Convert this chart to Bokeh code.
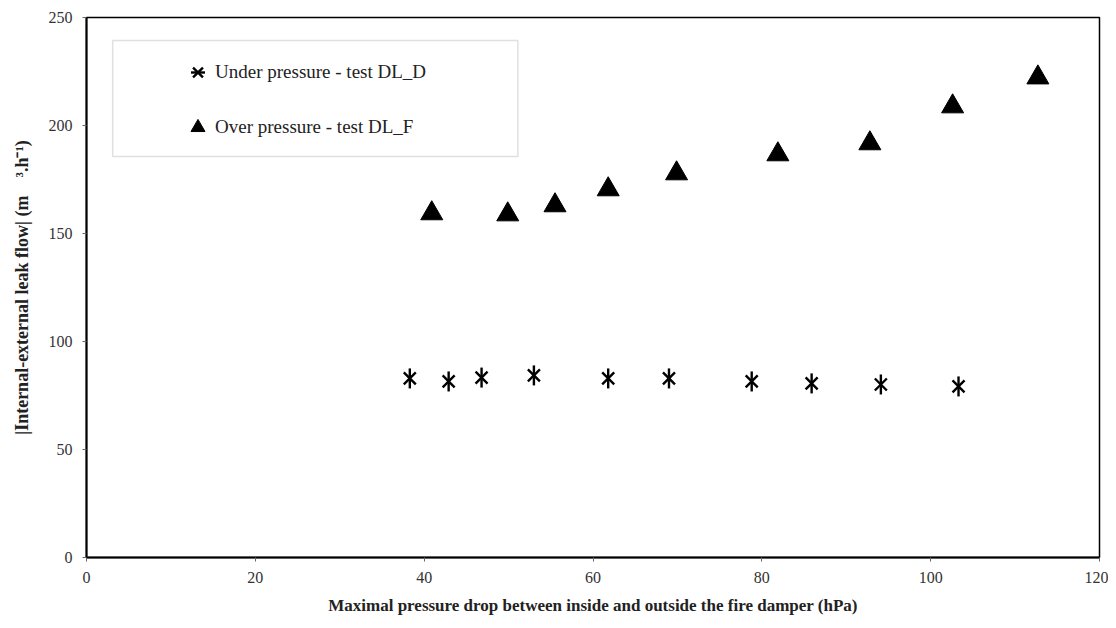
import math
from bokeh.plotting import figure
from bokeh.models import Range1d, BoxAnnotation, Legend, LegendItem, FixedTicker
from bokeh.embed import file_html
from bokeh.resources import INLINE

under_x = [38.3, 42.9, 46.8, 53.0, 61.8, 69.0, 78.8, 85.9, 94.1, 103.3]
under_y = [82.9, 81.5, 83.3, 84.3, 82.9, 82.9, 81.5, 80.6, 80.1, 79.2]
over_x = [40.9, 49.9, 55.5, 61.8, 69.9, 81.9, 92.8, 102.6, 112.7]
over_y = [159.3, 158.8, 163.0, 170.4, 177.8, 186.6, 191.7, 208.8, 222.2]
x_ticks = [0, 20, 40, 60, 80, 100, 120]
y_ticks = [0, 50, 100, 150, 200, 250]

FONT = "Liberation Serif"

p = figure(width=1108, height=620, output_backend="svg", toolbar_location=None,
           x_range=Range1d(0, 120), y_range=Range1d(0, 250),
           min_border_left=86, min_border_right=9, min_border_top=17, min_border_bottom=63)
p.grid.visible = False
p.outline_line_color = "black"
p.outline_line_width = 1.5
p.background_fill_color = "white"
p.border_fill_color = "white"

for ax in (p.xaxis[0], p.yaxis[0]):
    ax.axis_line_color = "black"
    ax.axis_line_width = 2
    ax.major_tick_out = 4
    ax.major_tick_in = 0
    ax.major_tick_line_color = "#666666"
    ax.minor_tick_out = 0
    ax.minor_tick_in = 0
    ax.major_label_text_font = FONT
    ax.major_label_text_font_size = "16px"
    ax.major_label_text_color = "#333333"
    ax.axis_label_text_font = FONT
    ax.axis_label_text_font_style = "bold"
    ax.axis_label_text_color = "#222222"

p.xaxis.ticker = FixedTicker(ticks=x_ticks)
p.yaxis.ticker = FixedTicker(ticks=y_ticks)
p.xaxis.major_label_standoff = 10
p.yaxis.major_label_standoff = 10
p.xaxis.axis_label = "Maximal pressure drop between inside and outside the fire damper (hPa)"
p.yaxis.axis_label = "|Internal-external leak flow| (m\u00a0\u00a0\u00a0\u00a0\u00b3.h\u207b\u00b9)"
p.xaxis.axis_label_text_font_size = "17px"
p.yaxis.axis_label_text_font_size = "18px"
p.xaxis.axis_label_standoff = 10
p.yaxis.axis_label_standoff = 14

r1 = p.scatter(under_x, under_y, marker="x", size=17, line_color="black", line_width=2.4)
r2 = p.scatter(under_x, under_y, marker="dash", angle=math.pi / 2, size=20,
               line_color="black", line_width=2.4)
r3 = p.scatter(over_x, over_y, marker="triangle", size=22, fill_color="black",
               line_color="black")

box = BoxAnnotation(left=3.1, right=51.1, top=239.4, bottom=185.6,
                    fill_color="white", fill_alpha=1.0,
                    line_color="#999999", line_width=1.5, level="underlay")
p.add_layout(box)

legend = Legend(items=[LegendItem(label="Under pressure - test DL_D", renderers=[r1, r2]),
                       LegendItem(label="Over pressure - test DL_F", renderers=[r3])],
                location=(94, 412), padding=0, spacing=19, glyph_width=35, glyph_height=36,
                label_standoff=0, border_line_alpha=0, background_fill_alpha=0,
                label_text_font=FONT, label_text_font_size="19px", label_text_color="#222222")
p.add_layout(legend)

open("out.html", "w").write(file_html(p, INLINE))
